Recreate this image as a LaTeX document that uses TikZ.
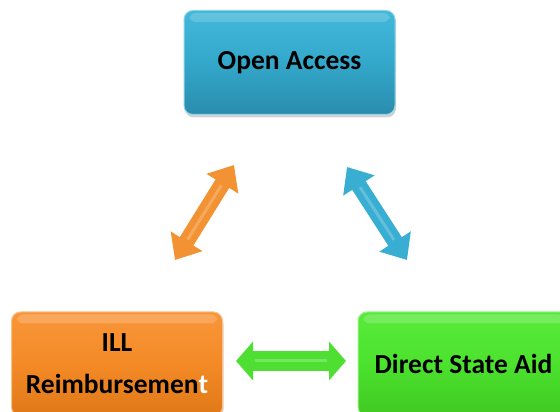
\documentclass[tikz,border=0pt]{standalone}
\usepackage{fontspec}
\setmainfont{Carlito}
\usetikzlibrary{arrows.meta,shadows}
\definecolor{bluetop}{HTML}{42B8DA}
\definecolor{bluemid}{HTML}{33A8CA}
\definecolor{bluebot}{HTML}{2A8CAE}
\definecolor{orgtop}{HTML}{F9963A}
\definecolor{orgmid}{HTML}{F38A26}
\definecolor{orgbot}{HTML}{E07818}
\definecolor{grntop}{HTML}{58EA3A}
\definecolor{grnmid}{HTML}{4CE22E}
\definecolor{grnbot}{HTML}{40C822}
\definecolor{blarrow}{HTML}{38AED2}
\definecolor{orarrow}{HTML}{F39232}
\definecolor{grarrow}{HTML}{4EDF32}
\tikzset{
  box/.style={rounded corners=9pt, minimum width=211pt, minimum height=104pt,
    inner sep=0pt, align=center, text=black,
    font=\fontsize{27.5}{42}\selectfont\bfseries,
    drop shadow={shadow xshift=1pt, shadow yshift=-3pt, opacity=0.35}},
  bluebox/.style={box, top color=bluetop, bottom color=bluebot, middle color=bluemid, draw=bluetop!60!white, line width=1pt},
  orangebox/.style={box, top color=orgtop, bottom color=orgbot, middle color=orgmid, draw=orgtop!60!white, line width=1pt},
  greenbox/.style={box, top color=grntop, bottom color=grnbot, middle color=grnmid, draw=grntop!60!white, line width=1pt},
  hl/.style={white, opacity=0.22, line width=3pt}
}
\begin{document}
\begin{tikzpicture}[x=1pt,y=1pt]
\useasboundingbox (0,0) rectangle (560,412);
\clip (0,0) rectangle (560,412);
\fill[white] (0,0) rectangle (560,412);
% boxes
\node[bluebox] (oa) at (289.5,349.5) {Open Access};
\node[orangebox] (ill) at (117,48) {ILL\\Reimbursemen\textcolor{white}{t}};
\node[greenbox] (dsa) at (463.5,48) {Direct State Aid};
% glossy top bands
\fill[white, opacity=0.18, rounded corners=6pt] ([xshift=6pt,yshift=-3pt]oa.north west) rectangle ([xshift=-6pt,yshift=-12pt]oa.north east);
\fill[white, opacity=0.18, rounded corners=6pt] ([xshift=6pt,yshift=-3pt]ill.north west) rectangle ([xshift=-6pt,yshift=-12pt]ill.north east);
\fill[white, opacity=0.18, rounded corners=6pt] ([xshift=6pt,yshift=-3pt]dsa.north west) rectangle ([xshift=-6pt,yshift=-12pt]dsa.north east);
% arrow end points
\coordinate (o1) at (175,152);
\coordinate (o2) at (234,247);
\coordinate (b1) at (347,245);
\coordinate (b2) at (407,152);
\coordinate (g1) at (236,51);
\coordinate (g2) at (346,51);
% arrows
\draw[orarrow, line width=16pt, {Triangle[width=36pt,length=22pt]}-{Triangle[width=36pt,length=22pt]}] (o1) -- (o2);
\draw[hl, shorten <=24pt, shorten >=24pt] (o1) -- (o2);
\draw[blarrow, line width=16pt, {Triangle[width=36pt,length=22pt]}-{Triangle[width=36pt,length=22pt]}] (b1) -- (b2);
\draw[hl, shorten <=24pt, shorten >=24pt] (b1) -- (b2);
\draw[grarrow, line width=20pt, {Triangle[width=38pt,length=17pt]}-{Triangle[width=38pt,length=17pt]}] (g1) -- (g2);
\draw[hl, shorten <=19pt, shorten >=19pt] (g1) -- (g2);
\end{tikzpicture}
\end{document}
